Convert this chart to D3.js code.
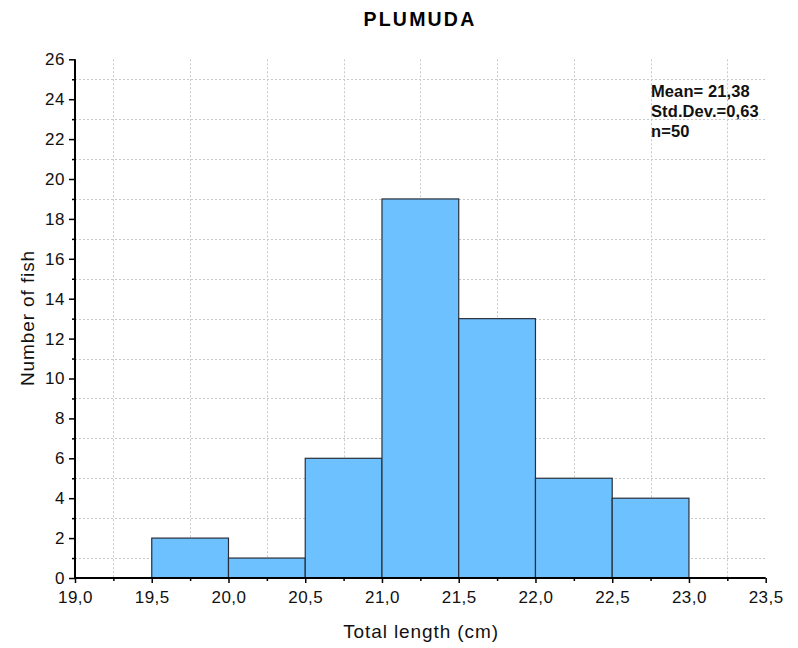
<!DOCTYPE html>
<html><head><meta charset="utf-8">
<script src="https://d3js.org/d3.v7.min.js"></script>
<style>body{margin:0;background:#fff}svg{display:block}text{font-family:"Liberation Sans",Arial,sans-serif}</style>
</head><body>
<svg id="c" width="798" height="648"></svg>
<script>
const binStarts = [19.5, 20.0, 20.5, 21.0, 21.5, 22.0, 22.5];
const binWidth = 0.5;
const counts = [2, 1, 6, 19, 13, 5, 4];
const xTicks = [19.0, 19.5, 20.0, 20.5, 21.0, 21.5, 22.0, 22.5, 23.0, 23.5];
const yTicks = [0, 2, 4, 6, 8, 10, 12, 14, 16, 18, 20, 22, 24, 26];
const statsLines = ["Mean= 21,38", "Std.Dev.=0,63", "n=50"];
const title = "PLUMUDA";
const xTitle = "Total length (cm)";
const yTitle = "Number of fish";

const svg = d3.select("#c");
const L = 75, R = 765.7, T = 59.3, B = 578;
const x = d3.scaleLinear().domain([19, 23.5]).range([L, R]);
const y = d3.scaleLinear().domain([0, 26]).range([B, T]);
const fmt = d => d3.format(".1f")(d).replace(".", ",");

const minorX = d3.range(19.25, 23.5, 0.5);
const minorY = d3.range(1, 26, 2);

// grid
const g = svg.append("g").attr("stroke", "#c8c8c8").attr("stroke-width", 1).attr("stroke-dasharray", "2,2");
g.selectAll("line.v").data(minorX).join("line")
  .attr("x1", d => Math.round(x(d)) + 0.5).attr("x2", d => Math.round(x(d)) + 0.5)
  .attr("y1", T).attr("y2", B);
g.selectAll("line.h").data(minorY).join("line")
  .attr("y1", d => Math.round(y(d)) + 0.5).attr("y2", d => Math.round(y(d)) + 0.5)
  .attr("x1", L).attr("x2", R);

// bars
svg.append("g").selectAll("rect").data(binStarts).join("rect")
  .attr("x", d => x(d))
  .attr("width", d => x(d + binWidth) - x(d))
  .attr("y", (d, i) => y(counts[i]))
  .attr("height", (d, i) => y(0) - y(counts[i]))
  .attr("fill", "#6ec1ff").attr("stroke", "#2b2f38").attr("stroke-width", 1.2);

// axes
const xAxis = svg.append("g").attr("transform", `translate(0,${B})`)
  .call(d3.axisBottom(x).tickValues(xTicks).tickFormat(fmt).tickSize(5).tickPadding(8));
const xMinor = svg.append("g").attr("transform", `translate(0,${B})`)
  .call(d3.axisBottom(x).tickValues(minorX).tickFormat("").tickSize(3));
const yAxis = svg.append("g").attr("transform", `translate(${L},0)`)
  .call(d3.axisLeft(y).tickValues(yTicks).tickSize(6).tickPadding(4));
const yMinor = svg.append("g").attr("transform", `translate(${L},0)`)
  .call(d3.axisLeft(y).tickValues(minorY).tickFormat("").tickSize(3));
[xAxis, yAxis, xMinor, yMinor].forEach(a => {
  a.select(".domain").attr("stroke", "#000").attr("stroke-width", 2);
  a.selectAll(".tick line").attr("stroke", "#000").attr("stroke-width", 1.5);
  a.selectAll(".tick text").attr("font-size", 17).attr("fill", "#111").attr("letter-spacing", 0.5)
   .attr("font-family", "'Liberation Sans',Arial,sans-serif");
});
xMinor.select(".domain").remove();
yMinor.select(".domain").remove();
xAxis.select(".domain").attr("d", `M${L},0H${R}`);
yAxis.select(".domain").attr("d", `M0,${B}V${T}`);

// titles
svg.append("text").attr("x", 420).attr("y", 26).attr("text-anchor", "middle")
  .attr("font-size", 19.5).attr("font-weight", "bold").attr("letter-spacing", 2.2).text(title);
svg.append("text").attr("x", 421).attr("y", 638).attr("text-anchor", "middle")
  .attr("font-size", 19).attr("letter-spacing", 0.9).attr("fill", "#111").text(xTitle);
svg.append("text").attr("transform", "translate(34,318) rotate(-90)").attr("text-anchor", "middle")
  .attr("font-size", 19).attr("letter-spacing", 0.9).attr("fill", "#111").text(yTitle);

// stats
svg.append("g").selectAll("text").data(statsLines).join("text")
  .attr("x", 651).attr("y", (d, i) => 96.5 + i * 20)
  .attr("font-size", 16.5).attr("font-weight", "bold").attr("fill", "#111")
  .attr("letter-spacing", 0.1).text(d => d);
</script>
</body></html>
